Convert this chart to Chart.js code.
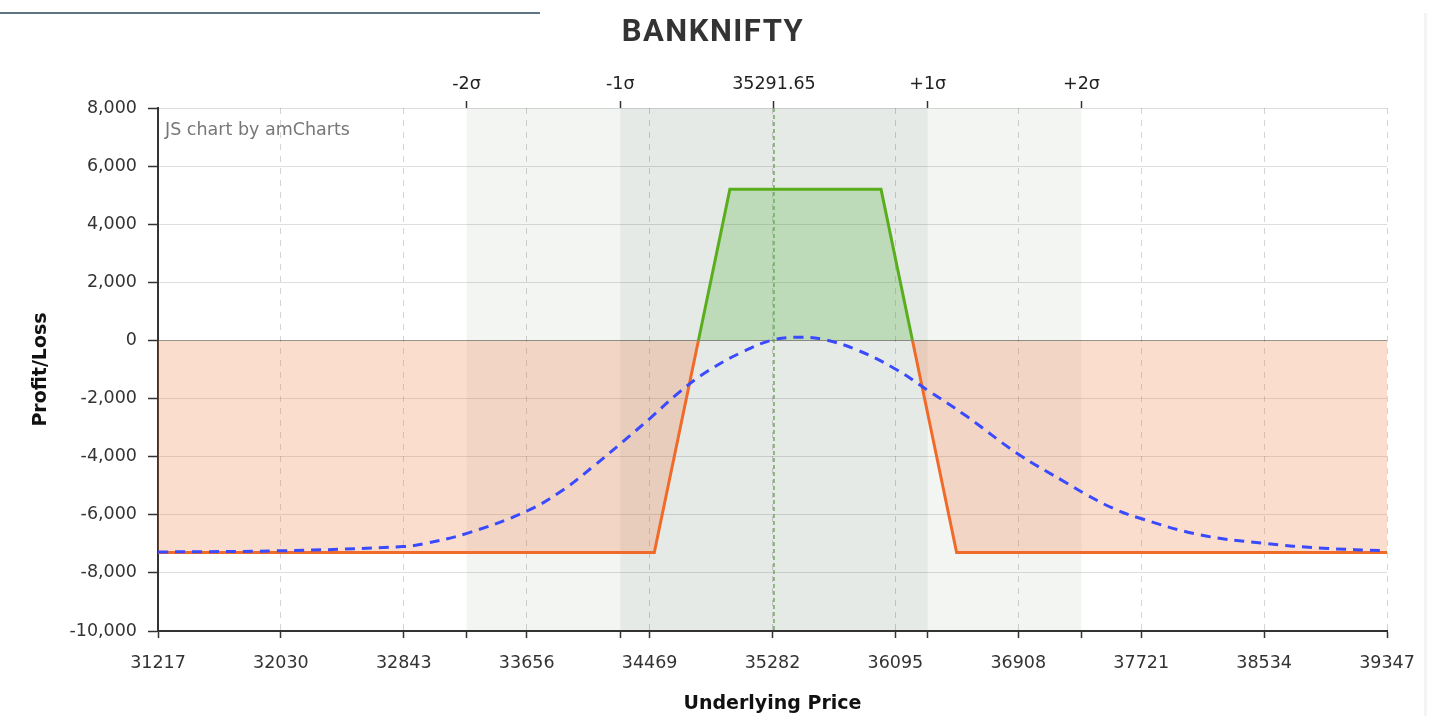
<!DOCTYPE html>
<html>
<head>
<meta charset="utf-8">
<title>BANKNIFTY</title>
<script src="https://cdn.jsdelivr.net/npm/chart.js@4.4.1/dist/chart.umd.min.js"></script>
<style>
  html, body { margin: 0; padding: 0; background: #fff; }
  #wrap { position: relative; width: 1434px; height: 716px; }
  #topRule { position: absolute; left: 0; top: 12px; width: 540px; height: 2px; background: #5d7585; }
  #sideRule { position: absolute; left: 1424px; top: 13px; width: 3px; height: 703px; background: #f4f4f4; }
  canvas { position: absolute; left: 0; top: 0; }
</style>
</head>
<body>
<div id="wrap">
  <div id="topRule"></div>
  <div id="sideRule"></div>
  <canvas id="payoffChart" width="1434" height="716"></canvas>
</div>
<script>
// Axes
const chartTitle = 'BANKNIFTY';
const xMin = 31217;
const xMax = 39347;
const xTickValues = [31217, 32030, 32843, 33656, 34469, 35282, 36095, 36908, 37721, 38534, 39347];
const yTickValues = [-10000, -8000, -6000, -4000, -2000, 0, 2000, 4000, 6000, 8000];

// Ecart-type autour du spot
const spotPrice = 35291.65;
const sigmaValues = [33257.65, 34274.65, 35291.65, 36308.65, 37325.65];
const sigmaLabels = ['-2σ', '-1σ', '35291.65', '+1σ', '+2σ'];

// Payoff a l'expiration
const payoffPrices = [31217, 34500, 34792, 35000, 36000, 36208, 36500, 39347];
const payoffValues = [-7300, -7300, 0, 5200, 5200, 0, -7300, -7300];

// Courbe T+0 (pointillés bleus)
const curvePrices = [31217, 32024, 32838, 32980, 33261, 33658, 33896, 34095, 34293, 34472, 34670, 34849, 35087,
    35285, 35464, 35616, 35841, 36106, 36304, 36569, 36899, 37230, 37362, 37534, 37713, 38110, 38527, 38924, 39347];
const curveValues = [-7280, -7240, -7095, -6990, -6640, -5870, -5145, -4340, -3480, -2680, -1760, -1070, -385,
    17, 110, 40, -327, -1015, -1700, -2620, -3880, -4915, -5317, -5775, -6120, -6690, -6980, -7150, -7240];

const GREEN = '#5aae1e';
const ORANGE = '#f06a2a';

// Bandes sigma, ligne du spot, titre et mention
const sigmaBands = {
    id: 'sigmaBands',
    beforeDraw(chart) {
        const { ctx, chartArea: a, scales: { x } } = chart;
        ctx.save();
        ctx.fillStyle = '#f3f5f3';
        let l = x.getPixelForValue(sigmaValues[0]);
        let r = x.getPixelForValue(sigmaValues[4]);
        ctx.fillRect(l, a.top, r - l, a.bottom - a.top);
        ctx.fillStyle = '#e6eae7';
        l = x.getPixelForValue(sigmaValues[1]);
        r = x.getPixelForValue(sigmaValues[3]);
        ctx.fillRect(l, a.top, r - l, a.bottom - a.top);
        ctx.restore();
    },
    beforeDatasetsDraw(chart) {
        const { ctx, chartArea: a, scales: { x } } = chart;
        const px = x.getPixelForValue(spotPrice);
        ctx.save();
        ctx.strokeStyle = '#4f9a3a';
        ctx.lineWidth = 1.2;
        ctx.setLineDash([4, 3]);
        ctx.beginPath();
        ctx.moveTo(px, a.top);
        ctx.lineTo(px, a.bottom);
        ctx.stroke();
        ctx.restore();
    },
    afterDraw(chart) {
        const { ctx, chartArea: a } = chart;
        ctx.save();
        ctx.font = '17.5px "DejaVu Sans"';
        ctx.fillStyle = '#777';
        ctx.textBaseline = 'middle';
        ctx.fillText('JS chart by amCharts', a.left + 7, a.top + 22);

        // Titre
        ctx.font = 'bold 31px Roboto';
        ctx.fillStyle = '#333';
        ctx.textAlign = 'center';
        if ('letterSpacing' in ctx) ctx.letterSpacing = '1.5px';
        ctx.fillText(chartTitle, chart.width / 2 - 4, 33);
        ctx.restore();
    }
};

Chart.defaults.font.family = '"DejaVu Sans", Verdana, sans-serif';
Chart.defaults.font.size = 17.5;
Chart.defaults.color = '#333';

const ctx = document.getElementById('payoffChart').getContext('2d');
new Chart(ctx, {
    type: 'line',
    data: {
        datasets: [
            {
                label: 'T+0',
                data: curvePrices.map((p, i) => ({ x: p, y: curveValues[i] })),
                borderColor: '#3a4bff',
                borderWidth: 3,
                borderDash: [10, 7],
                tension: 0.4,
                pointRadius: 0,
                fill: false,
                order: 0
            },
            {
                label: 'Expiry',
                data: payoffPrices.map((p, i) => ({ x: p, y: payoffValues[i] })),
                borderWidth: 3,
                borderColor: ORANGE,
                segment: {
                    borderColor: c => (c.p0.parsed.y + c.p1.parsed.y) > 0 ? GREEN : ORANGE
                },
                fill: {
                    target: 'origin',
                    above: 'rgba(100, 185, 80, 0.3)',
                    below: 'rgba(240, 120, 60, 0.25)'
                },
                tension: 0,
                pointRadius: 0,
                order: 1
            }
        ]
    },
    options: {
        responsive: false,
        animation: false,
        layout: { padding: { left: 0, right: 47, top: 51, bottom: 0 } },
        plugins: {
            legend: { display: false },
            tooltip: { enabled: false },
            title: { display: false }
        },
        scales: {
            x: {
                type: 'linear',
                position: 'bottom',
                min: xMin,
                max: xMax,
                afterBuildTicks: s => {
                    const extra = [sigmaValues[0], sigmaValues[1], sigmaValues[3], sigmaValues[4]];
                    s.ticks = xTickValues.concat(extra).sort((a, b) => a - b).map(v => ({ value: v }));
                },
                afterFit: s => { s.height = 85; },
                grid: {
                    color: c => (c.tick && !xTickValues.includes(c.tick.value)) ? 'rgba(0,0,0,0)' : 'rgba(0,0,0,0.17)',
                    lineWidth: 1,
                    tickLength: 7,
                    tickColor: '#333',
                    tickWidth: 1.5
                },
                border: { display: true, color: '#333', width: 2, dash: [6, 6] },
                ticks: {
                    autoSkip: false,
                    maxRotation: 0,
                    padding: 15,
                    color: '#333',
                    callback: v => xTickValues.includes(v) ? String(v) : ''
                },
                title: {
                    display: true,
                    text: 'Underlying Price',
                    color: '#111',
                    font: { size: 19, weight: 'bold' },
                    padding: { top: 0, bottom: 1 }
                }
            },
            x2: {
                type: 'linear',
                position: 'top',
                min: xMin,
                max: xMax,
                afterBuildTicks: s => { s.ticks = sigmaValues.map(v => ({ value: v })); },
                afterFit: s => { s.height = 57; },
                grid: { drawOnChartArea: false, tickLength: 7, tickColor: '#333', tickWidth: 1.5 },
                border: { display: false },
                ticks: {
                    autoSkip: false,
                    maxRotation: 0,
                    padding: 6,
                    color: '#222',
                    callback: (v, i) => sigmaLabels[i]
                }
            },
            y: {
                type: 'linear',
                min: -10000,
                max: 8000,
                afterBuildTicks: s => { s.ticks = yTickValues.map(v => ({ value: v })); },
                afterFit: s => { s.width = 158; },
                grid: {
                    color: c => (c.tick && c.tick.value === 0) ? 'rgba(0,0,0,0.42)' : 'rgba(0,0,0,0.13)',
                    tickLength: 10,
                    tickColor: '#333',
                    tickWidth: 1.5
                },
                border: { display: true, color: '#333', width: 2 },
                ticks: {
                    padding: 11,
                    color: '#333',
                    callback: v => v.toLocaleString('en-US')
                },
                title: {
                    display: true,
                    text: 'Profit/Loss',
                    color: '#111',
                    font: { size: 19, weight: 'bold' },
                    padding: { top: 30, bottom: 0 }
                }
            }
        }
    },
    plugins: [sigmaBands]
});
</script>
</body>
</html>
